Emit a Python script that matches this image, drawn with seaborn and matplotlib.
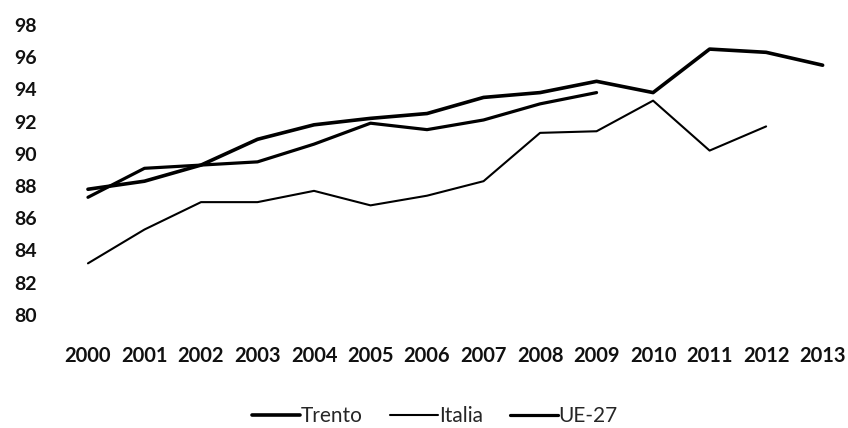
import seaborn as sns
import matplotlib.pyplot as plt
import pandas as pd
import numpy as np

years = [2000, 2001, 2002, 2003, 2004, 2005, 2006, 2007, 2008, 2009, 2010, 2011, 2012, 2013]
trento = [87.8, 88.3, 89.3, 90.9, 91.8, 92.2, 92.5, 93.5, 93.8, 94.5, 93.8, 96.5, 96.3, 95.5]
italia = [83.2, 85.3, 87.0, 87.0, 87.7, 86.8, 87.4, 88.3, 91.3, 91.4, 93.3, 90.2, 91.7]
ue27 = [87.3, 89.1, 89.3, 89.5, 90.6, 91.9, 91.5, 92.1, 93.1, 93.8]
y_ticks = [80, 82, 84, 86, 88, 90, 92, 94, 96, 98]

def pad(vals):
    return list(vals) + [np.nan] * (len(years) - len(vals))

df = pd.DataFrame({'anno': years, 'Trento': pad(trento), 'Italia': pad(italia), 'UE-27': pad(ue27)})

sns.set_theme(style="white")
plt.rcParams['font.family'] = ['Lato', 'DejaVu Sans']

fig = plt.figure(figsize=(8.48, 4.28), dpi=100)
ax = fig.add_axes([0.0904, 0.2266, 0.893, 0.7528])

widths = {'Trento': 2.6, 'Italia': 1.5, 'UE-27': 2.3}
for name in ['Trento', 'Italia', 'UE-27']:
    sns.lineplot(data=df, x='anno', y=name, ax=ax, color='black',
                 linewidth=widths[name], label=name)

ax.set_xlim(1999.8, 2013.2)
ax.set_ylim(79, 99)
ax.set_xticks(years)
ax.set_xticklabels([str(y) for y in years])
ax.set_yticks(y_ticks)
ax.set_xlabel('')
ax.set_ylabel('')
for s in ax.spines.values():
    s.set_visible(False)
ax.tick_params(axis='y', length=0, pad=29, labelsize=14)
ax.tick_params(axis='x', length=0, pad=11, labelsize=14.5)
for lab in ax.get_xticklabels() + ax.get_yticklabels():
    lab.set_fontweight('bold')
    lab.set_color('#111111')

ax.legend(loc='upper center', bbox_to_anchor=(0.473, -0.175), ncol=3, frameon=False,
          fontsize=15, handlelength=2.3, handletextpad=0.05, columnspacing=1.3)

fig.savefig('out.png', dpi=100)
